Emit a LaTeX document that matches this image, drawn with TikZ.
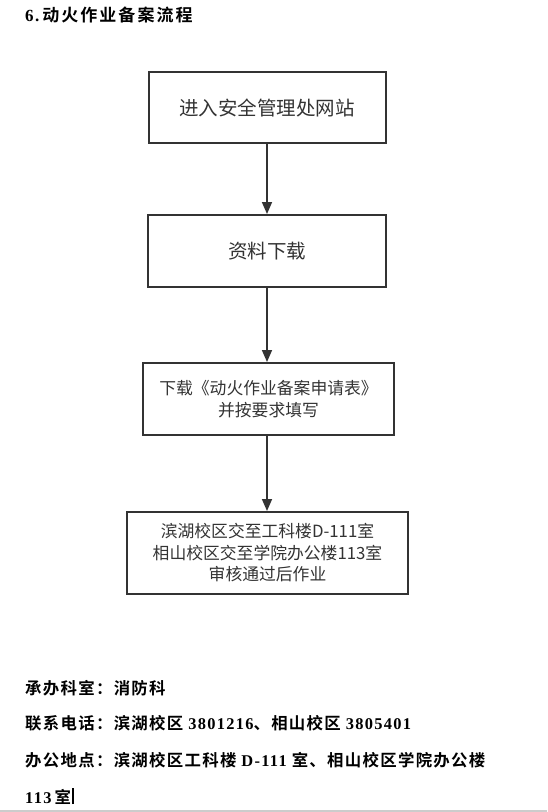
\documentclass[tikz,border=0pt]{standalone}
\usepackage{fontspec}
\setmainfont{Liberation Serif}
\newfontfamily\cjk{Noto Sans CJK SC}
\newfontfamily\cjkb{Noto Sans CJK SC Bold}[LetterSpace=8]
\newfontfamily\latb{Liberation Serif}[LetterSpace=8]
\newfontfamily\cjkt{Noto Sans CJK SC Bold}[LetterSpace=12]
\usetikzlibrary{arrows.meta}
\definecolor{boxline}{HTML}{333333}
\definecolor{boxtext}{HTML}{333333}
\newcommand{\cb}[1]{{\cjkb #1}}
\newcommand{\lb}[1]{{\latb\bfseries #1}}
\begin{document}
\begin{tikzpicture}[x=1pt,y=-1pt,
  flowbox/.style={draw=boxline,line width=2pt,rectangle,align=center,
    text=boxtext,font=\cjk\fontsize{16.8}{21.5}\selectfont,inner sep=0pt},
  flowarrow/.style={draw=boxline,line width=1.6pt,-{Triangle[length=12pt,width=10pt]}},
  infotext/.style={anchor=west,inner sep=0pt,font=\fontsize{16.4}{18}\selectfont}]
\useasboundingbox (0,0) rectangle (547,812);
\fill[white] (0,0) rectangle (547,812);
% title
\node[infotext,font=\fontsize{17}{18}\selectfont] (title) at (25,15) {\lb{6.}\hspace{3pt}{\cjkt 动火作业备案流程}};
% boxes
\node[flowbox,minimum width=237pt,minimum height=71pt,font=\cjk\fontsize{19.5}{22}\selectfont] (b1) at (267,107.5) {进入安全管理处网站};
\node[flowbox,minimum width=238pt,minimum height=72pt,font=\cjk\fontsize{19.5}{22}\selectfont] (b2) at (267,251) {资料下载};
\node[flowbox,minimum width=251pt,minimum height=72pt] (b3) at (268.5,399) {下载《动火作业备案申请表》\\并按要求填写};
\node[flowbox,minimum width=281pt,minimum height=82pt] (b4) at (267.5,553) {滨湖校区交至工科楼D-111室\\相山校区交至学院办公楼113室\\审核通过后作业};
% arrows
\draw[flowarrow] (b1.south) -- (b1.south |- b2.north);
\draw[flowarrow] (b1.south |- b2.south) -- (b1.south |- b3.north);
\draw[flowarrow] (b1.south |- b3.south) -- (b1.south |- b4.north);
% info text
\node[infotext] (l1) at (25,688) {\cb{承办科室：消防科}};
\node[infotext] (l2) at (25,723) {\cb{联系电话：滨湖校区}\hspace{5pt}\lb{3801216}\cb{、相山校区}\hspace{5pt}\lb{3805401}};
\node[infotext] (l3) at (25,760) {\cb{办公地点：滨湖校区工科楼}\hspace{5pt}\lb{D-111}\hspace{5pt}\cb{室、相山校区学院办公楼}};
\node[infotext] (l4) at (25,797) {\lb{113}\hspace{3pt}\cb{室}};
\coordinate (cur) at (l4.east);
\draw[line width=1.8pt] ([xshift=2pt,yshift=-7pt]cur) -- ([xshift=2pt,yshift=9pt]cur);
\draw[line width=1.5pt,color=gray!40] (0,811) -- (547,811);
\end{tikzpicture}
\end{document}
